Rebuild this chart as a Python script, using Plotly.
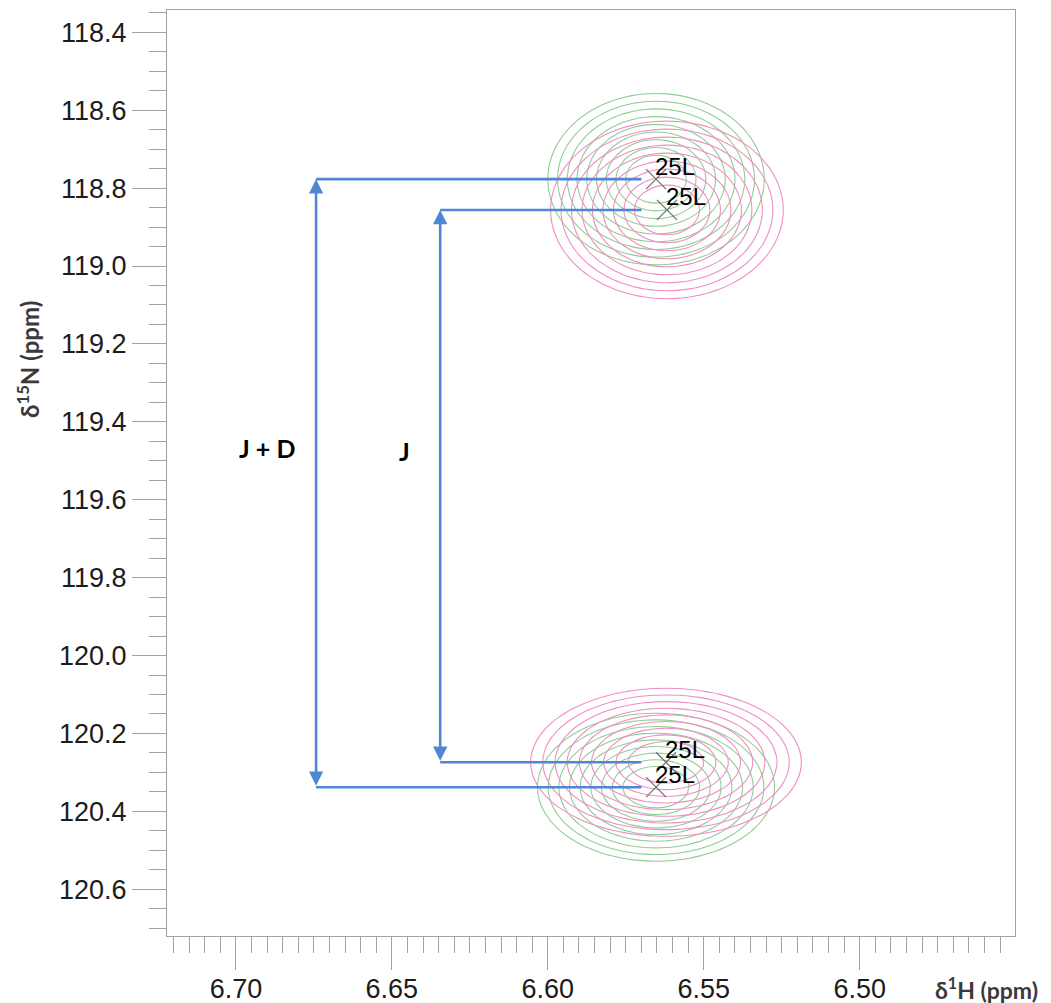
import numpy as np
import plotly.graph_objects as go

# ---- peak lists (1H / 15N chemical shifts, ppm) ----
residue_labels = ["25L", "25L"]

# aligned spectrum (green): upfield / downfield doublet components -> J + D
green_H = [6.5653, 6.5653]
green_N = [118.777, 120.338]
green_halfwidth_H = [0.0347, 0.0380]
green_halfwidth_N = [0.220, 0.190]

# isotropic spectrum (pink): doublet components -> J
pink_H = [6.5618, 6.5621]
pink_N = [118.856, 120.274]
pink_halfwidth_H = [0.0373, 0.0434]
pink_halfwidth_N = [0.228, 0.190]

splitting_labels = ["J + D", "J"]

# ---- styling / layout constants ----
GREEN = "#8fcf8f"
PINK = "#f28cc6"
BLUE = "#4f87d2"
AXIS_GREY = "#a3a3a3"
TICK_FONT = dict(family="Liberation Sans, Arial, sans-serif", size=27, color="#1c1c1c")
BOLD_FONT = "Lato, Carlito, sans-serif"

X_RANGE = [6.7221, 6.4502]
Y_RANGE = [120.720, 118.3427]
BRACKET_X = [6.6743, 6.6345]     # x of the vertical arrows (J + D, J)
LEADER_END_H = 6.570             # horizontal leader lines stop here
DECAY = 6.0

# spectral grid
H_grid = np.arange(6.45, 6.7225, 0.0035)
N_grid = np.arange(118.34, 120.725, 0.024)
HH, NN = np.meshgrid(H_grid, N_grid)


def log_spectrum(h0s, n0s, whs, wns):
    """Log intensity of a set of exponential-lineshape peaks on the grid,
    scaled so that the level -1 lies on each peak's outer contour."""
    total = np.zeros_like(HH)
    for h0, n0, wh, wn in zip(h0s, n0s, whs, wns):
        r = np.sqrt(((HH - h0) / wh) ** 2 + ((NN - n0) / wn) ** 2)
        total += np.exp(-DECAY * r)
    return np.log(total) / DECAY


def contour_trace(z, color):
    return go.Contour(
        x=H_grid, y=N_grid, z=z,
        contours=dict(coloring="lines", start=-1.0, end=-0.25, size=0.09),
        colorscale=[[0, color], [1, color]],
        line=dict(width=1.1, smoothing=0.7),
        showscale=False, hoverinfo="skip",
    )


fig = go.Figure()
fig.add_trace(contour_trace(log_spectrum(green_H, green_N, green_halfwidth_H, green_halfwidth_N), GREEN))
fig.add_trace(contour_trace(log_spectrum(pink_H, pink_N, pink_halfwidth_H, pink_halfwidth_N), PINK))

# peak-pick crosses
all_H = green_H + pink_H
all_N = green_N + pink_N
fig.add_trace(go.Scatter(
    x=all_H, y=all_N, mode="markers",
    marker=dict(symbol="x-thin", size=20, line=dict(width=1.2, color="#6e6e6e")),
    hoverinfo="skip", showlegend=False,
))
for h, n, lab in zip(all_H, all_N, residue_labels * 2):
    fig.add_annotation(
        x=h, y=n, text=lab, showarrow=False, xanchor="left", yanchor="middle",
        xshift=-3, yshift=13,
        font=dict(family="Liberation Sans, Arial, sans-serif", size=24, color="#000000"),
    )

# splitting brackets: J + D spans the green doublet, J spans the pink doublet
for (n_top, n_bot), bx, lab, dx in zip(
    [(green_N[0], green_N[1]), (pink_N[0], pink_N[1])],
    BRACKET_X, splitting_labels, [-49, -36],
):
    fig.add_trace(go.Scatter(
        x=[LEADER_END_H, bx, None, bx, LEADER_END_H],
        y=[n_top, n_top, None, n_bot, n_bot],
        mode="lines", line=dict(color=BLUE, width=2.6),
        hoverinfo="skip", showlegend=False,
    ))
    fig.add_annotation(
        x=bx, y=n_top, ax=bx, ay=n_bot, axref="x", ayref="y",
        text="", showarrow=True, arrowside="end+start",
        arrowhead=2, arrowsize=1.1, arrowwidth=2.6, arrowcolor=BLUE, standoff=0, startstandoff=0,
    )
    fig.add_annotation(
        x=bx, y=(n_top + n_bot) / 2 - 0.09, text=f"<b>{lab}</b>", showarrow=False,
        xanchor="center", yanchor="middle",
        xshift=dx, font=dict(family=BOLD_FONT, size=25, color="#000000"),
    )

# axis titles
fig.add_annotation(
    xref="paper", yref="paper", x=-0.164, y=0.623, textangle=-90,
    xanchor="center", yanchor="middle",
    text="<b>δ<sup>15</sup>N (ppm)</b>", showarrow=False,
    font=dict(family=BOLD_FONT, size=24, color="#3a3a3a"),
)
fig.add_annotation(
    xref="paper", yref="paper", x=0.966, y=-0.057,
    xanchor="center", yanchor="middle",
    text="<b>δ<sup>1</sup>H (ppm)</b>", showarrow=False,
    font=dict(family=BOLD_FONT, size=23, color="#3a3a3a"),
)

axis_common = dict(
    showgrid=False, zeroline=False, showline=True, mirror=True,
    linecolor=AXIS_GREY, linewidth=1,
    ticks="outside", tickcolor=AXIS_GREY, tickwidth=1,
    tickfont=TICK_FONT, automargin=False,
)
fig.update_xaxes(
    range=X_RANGE, tick0=6.5, dtick=0.05, tickformat=".2f", ticklen=33,
    ticklabelstandoff=-4,
    minor=dict(ticks="outside", dtick=0.005, tick0=6.5, ticklen=16, tickcolor=AXIS_GREY, tickwidth=1),
    **axis_common,
)
fig.update_yaxes(
    range=Y_RANGE, tick0=118.4, dtick=0.2, tickformat=".1f", ticklen=34,
    minor=dict(ticks="outside", dtick=0.05, tick0=118.4, ticklen=17, tickcolor=AXIS_GREY, tickwidth=1),
    **axis_common,
)

fig.update_layout(
    width=1051, height=1003,
    margin=dict(l=167, r=36, t=10, b=67),
    paper_bgcolor="white", plot_bgcolor="white",
    showlegend=False,
)

fig.write_html("out.html")
